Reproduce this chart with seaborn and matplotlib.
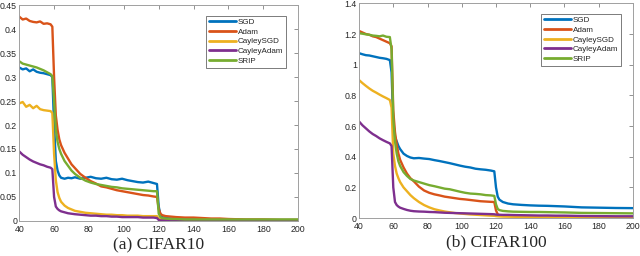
import matplotlib
matplotlib.use("Agg")
import matplotlib.pyplot as plt
import matplotlib.ticker as mticker
import seaborn as sns
import pandas as pd

methods = ["SGD", "Adam", "CayleySGD", "CayleyAdam", "SRIP"]
colors = ["#0072BD", "#D95319", "#EDB120", "#7E2F8E", "#77AC30"]

epochs = [40, 42, 44, 46, 48, 50, 52, 54, 56, 58,
          59, 60, 61, 62, 63, 64,
          66, 68, 70, 72,
          75, 78, 81, 84, 87, 90, 93, 96, 99, 102, 105, 108, 111, 114, 117,
          119, 120, 121, 122, 124, 127, 130,
          135, 140, 145, 150, 155, 160,
          170, 180, 190, 200]

# CIFAR10 training loss
c10_sgd = [0.320, 0.316, 0.318, 0.312, 0.316, 0.311, 0.309, 0.308, 0.306, 0.304,
           0.300, 0.200, 0.125, 0.105, 0.095, 0.090,
           0.088, 0.090, 0.089, 0.091,
           0.088, 0.090, 0.092, 0.089, 0.088, 0.090, 0.087, 0.086, 0.088, 0.085, 0.083, 0.081, 0.080, 0.082, 0.079,
           0.077, 0.030, 0.012, 0.008, 0.006, 0.005, 0.004,
           0.004, 0.004, 0.003, 0.003, 0.003, 0.003,
           0.002, 0.002, 0.002, 0.002]
c10_adam = [0.426, 0.420, 0.422, 0.417, 0.415, 0.414, 0.416, 0.411, 0.412, 0.410,
            0.405, 0.300, 0.220, 0.190, 0.170, 0.158,
            0.142, 0.130, 0.118, 0.110,
            0.098, 0.090, 0.083, 0.078, 0.072, 0.070, 0.067, 0.064, 0.062, 0.060, 0.058, 0.056, 0.054, 0.053, 0.051,
            0.050, 0.025, 0.015, 0.012, 0.010, 0.009, 0.008,
            0.007, 0.007, 0.006, 0.005, 0.005, 0.004,
            0.003, 0.003, 0.002, 0.002]
c10_csgd = [0.245, 0.248, 0.238, 0.242, 0.235, 0.240, 0.233, 0.231, 0.230, 0.229,
            0.225, 0.140, 0.085, 0.060, 0.048, 0.040,
            0.032, 0.027, 0.024, 0.021,
            0.019, 0.017, 0.016, 0.015, 0.014, 0.013, 0.013, 0.012, 0.012, 0.011, 0.011, 0.011, 0.010, 0.010, 0.010,
            0.010, 0.005, 0.004, 0.003, 0.003, 0.003, 0.002,
            0.002, 0.002, 0.002, 0.002, 0.002, 0.002,
            0.002, 0.002, 0.002, 0.002]
c10_cadam = [0.145, 0.138, 0.133, 0.128, 0.124, 0.121, 0.118, 0.116, 0.113, 0.111,
             0.108, 0.050, 0.030, 0.025, 0.022, 0.020,
             0.018, 0.016, 0.015, 0.014,
             0.013, 0.012, 0.011, 0.011, 0.010, 0.010, 0.009, 0.009, 0.008, 0.008, 0.008, 0.008, 0.007, 0.007, 0.007,
             0.006, 0.002, 0.001, 0.001, 0.001, 0.001, 0.001,
             0.001, 0.001, 0.001, 0.001, 0.001, 0.001,
             0.001, 0.001, 0.001, 0.001]
c10_srip = [0.333, 0.328, 0.326, 0.324, 0.322, 0.320, 0.317, 0.314, 0.310, 0.306,
            0.302, 0.250, 0.190, 0.165, 0.150, 0.140,
            0.125, 0.115, 0.105, 0.098,
            0.090, 0.084, 0.080, 0.077, 0.075, 0.073, 0.071, 0.070, 0.068, 0.067, 0.066, 0.065, 0.064, 0.063, 0.062,
            0.062, 0.015, 0.008, 0.006, 0.005, 0.004, 0.004,
            0.003, 0.003, 0.003, 0.003, 0.003, 0.003,
            0.003, 0.003, 0.003, 0.003]

# CIFAR100 training loss
c100_sgd = [1.075, 1.068, 1.062, 1.060, 1.055, 1.050, 1.045, 1.042, 1.038, 1.030,
            0.950, 0.620, 0.530, 0.500, 0.470, 0.450,
            0.420, 0.405, 0.395, 0.390,
            0.392, 0.388, 0.385, 0.378, 0.372, 0.365, 0.358, 0.350, 0.342, 0.335, 0.330, 0.322, 0.318, 0.315, 0.310,
            0.305, 0.200, 0.140, 0.120, 0.105, 0.095, 0.090,
            0.086, 0.083, 0.081, 0.080, 0.078, 0.076,
            0.070, 0.068, 0.066, 0.065]
c100_adam = [1.220, 1.210, 1.200, 1.195, 1.185, 1.180, 1.170, 1.160, 1.150, 1.140,
             1.120, 0.700, 0.560, 0.480, 0.420, 0.380,
             0.330, 0.290, 0.260, 0.240,
             0.205, 0.180, 0.165, 0.155, 0.148, 0.140, 0.135, 0.130, 0.125, 0.122, 0.118, 0.114, 0.110, 0.108, 0.106,
             0.105, 0.050, 0.025, 0.018, 0.015, 0.013, 0.012,
             0.010, 0.009, 0.008, 0.007, 0.006, 0.005,
             0.004, 0.004, 0.003, 0.003]
c100_csgd = [0.900, 0.880, 0.862, 0.845, 0.830, 0.818, 0.805, 0.793, 0.782, 0.770,
             0.720, 0.420, 0.340, 0.290, 0.260, 0.235,
             0.200, 0.175, 0.150, 0.130,
             0.105, 0.085, 0.070, 0.058, 0.050, 0.043, 0.038, 0.033, 0.030, 0.027, 0.024, 0.022, 0.020, 0.018, 0.016,
             0.015, 0.013, 0.012, 0.011, 0.010, 0.010, 0.009,
             0.008, 0.007, 0.006, 0.006, 0.005, 0.005,
             0.004, 0.004, 0.003, 0.003]
c100_cadam = [0.630, 0.605, 0.585, 0.565, 0.548, 0.535, 0.520, 0.508, 0.497, 0.487,
              0.470, 0.200, 0.105, 0.085, 0.075, 0.068,
              0.060, 0.053, 0.048, 0.045,
              0.043, 0.042, 0.040, 0.039, 0.037, 0.035, 0.034, 0.033, 0.032, 0.031, 0.030, 0.029, 0.028, 0.027, 0.026,
              0.025, 0.023, 0.022, 0.022, 0.021, 0.021, 0.020,
              0.019, 0.018, 0.017, 0.017, 0.016, 0.016,
              0.014, 0.013, 0.012, 0.012]
c100_srip = [1.205, 1.202, 1.198, 1.195, 1.190, 1.188, 1.185, 1.190, 1.182, 1.180,
             1.100, 0.650, 0.500, 0.420, 0.370, 0.340,
             0.300, 0.275, 0.255, 0.245,
             0.235, 0.225, 0.215, 0.208, 0.200, 0.192, 0.188, 0.180, 0.172, 0.165, 0.160, 0.158, 0.155, 0.150, 0.148,
             0.145, 0.090, 0.060, 0.052, 0.047, 0.044, 0.042,
             0.041, 0.040, 0.040, 0.039, 0.038, 0.037,
             0.034, 0.033, 0.032, 0.031]

panels = [
    ("(a) CIFAR10", [c10_sgd, c10_adam, c10_csgd, c10_cadam, c10_srip],
     [0, 0.45], [0, 0.05, 0.1, 0.15, 0.2, 0.25, 0.3, 0.35, 0.4, 0.45],
     [0.030, 0.137, 0.436, 0.843]),
    ("(b) CIFAR100", [c100_sgd, c100_adam, c100_csgd, c100_cadam, c100_srip],
     [0, 1.4], [0, 0.2, 0.4, 0.6, 0.8, 1.0, 1.2, 1.4],
     [0.561, 0.148, 0.428, 0.839]),
]

sns.set_style("white")
plt.rcParams['font.family'] = ['Liberation Sans', 'DejaVu Sans']

fig = plt.figure(figsize=(6.4, 2.56), dpi=100)

for title, series, ylim, yticks, pos in panels:
    ax = fig.add_axes(pos)
    frames = []
    for m, vals in zip(methods, series):
        frames.append(pd.DataFrame({"epoch": epochs, "loss": vals, "method": m}))
    df = pd.concat(frames, ignore_index=True)
    sns.lineplot(data=df, x="epoch", y="loss", hue="method", hue_order=methods,
                 palette=colors, estimator=None, linewidth=1.7, ax=ax)
    ax.set_xlim(40, 200)
    ax.set_ylim(*ylim)
    ax.set_xticks([40, 60, 80, 100, 120, 140, 160, 180, 200])
    ax.set_yticks(yticks)
    ax.yaxis.set_major_formatter(mticker.FuncFormatter(lambda v, p: "%g" % round(v, 3)))
    ax.tick_params(direction="in", length=3, width=0.6, labelsize=6.3, pad=1.5,
                   top=True, right=True, color="#808080", labelcolor="#262626")
    ax.tick_params(axis="x", pad=3)
    for s in ax.spines.values():
        s.set_linewidth(0.7)
        s.set_color("#a0a0a0")
    ax.set_xlabel("")
    ax.set_ylabel("")
    leg = ax.legend(loc="upper right", fontsize=5.8, frameon=True, fancybox=False,
                    handlelength=3.3, handletextpad=0.25, borderpad=0.35,
                    labelspacing=0.25, bbox_to_anchor=(0.97, 0.97))
    leg.get_frame().set_edgecolor("#404040")
    leg.get_frame().set_linewidth(0.6)
    for line in leg.get_lines():
        line.set_linewidth(2.0)
    ax.text(0.5, -0.075, title, transform=ax.transAxes, ha="center", va="top",
            fontsize=12.5, family=["Liberation Serif", "DejaVu Serif"])

fig.savefig("out.png", dpi=100)
